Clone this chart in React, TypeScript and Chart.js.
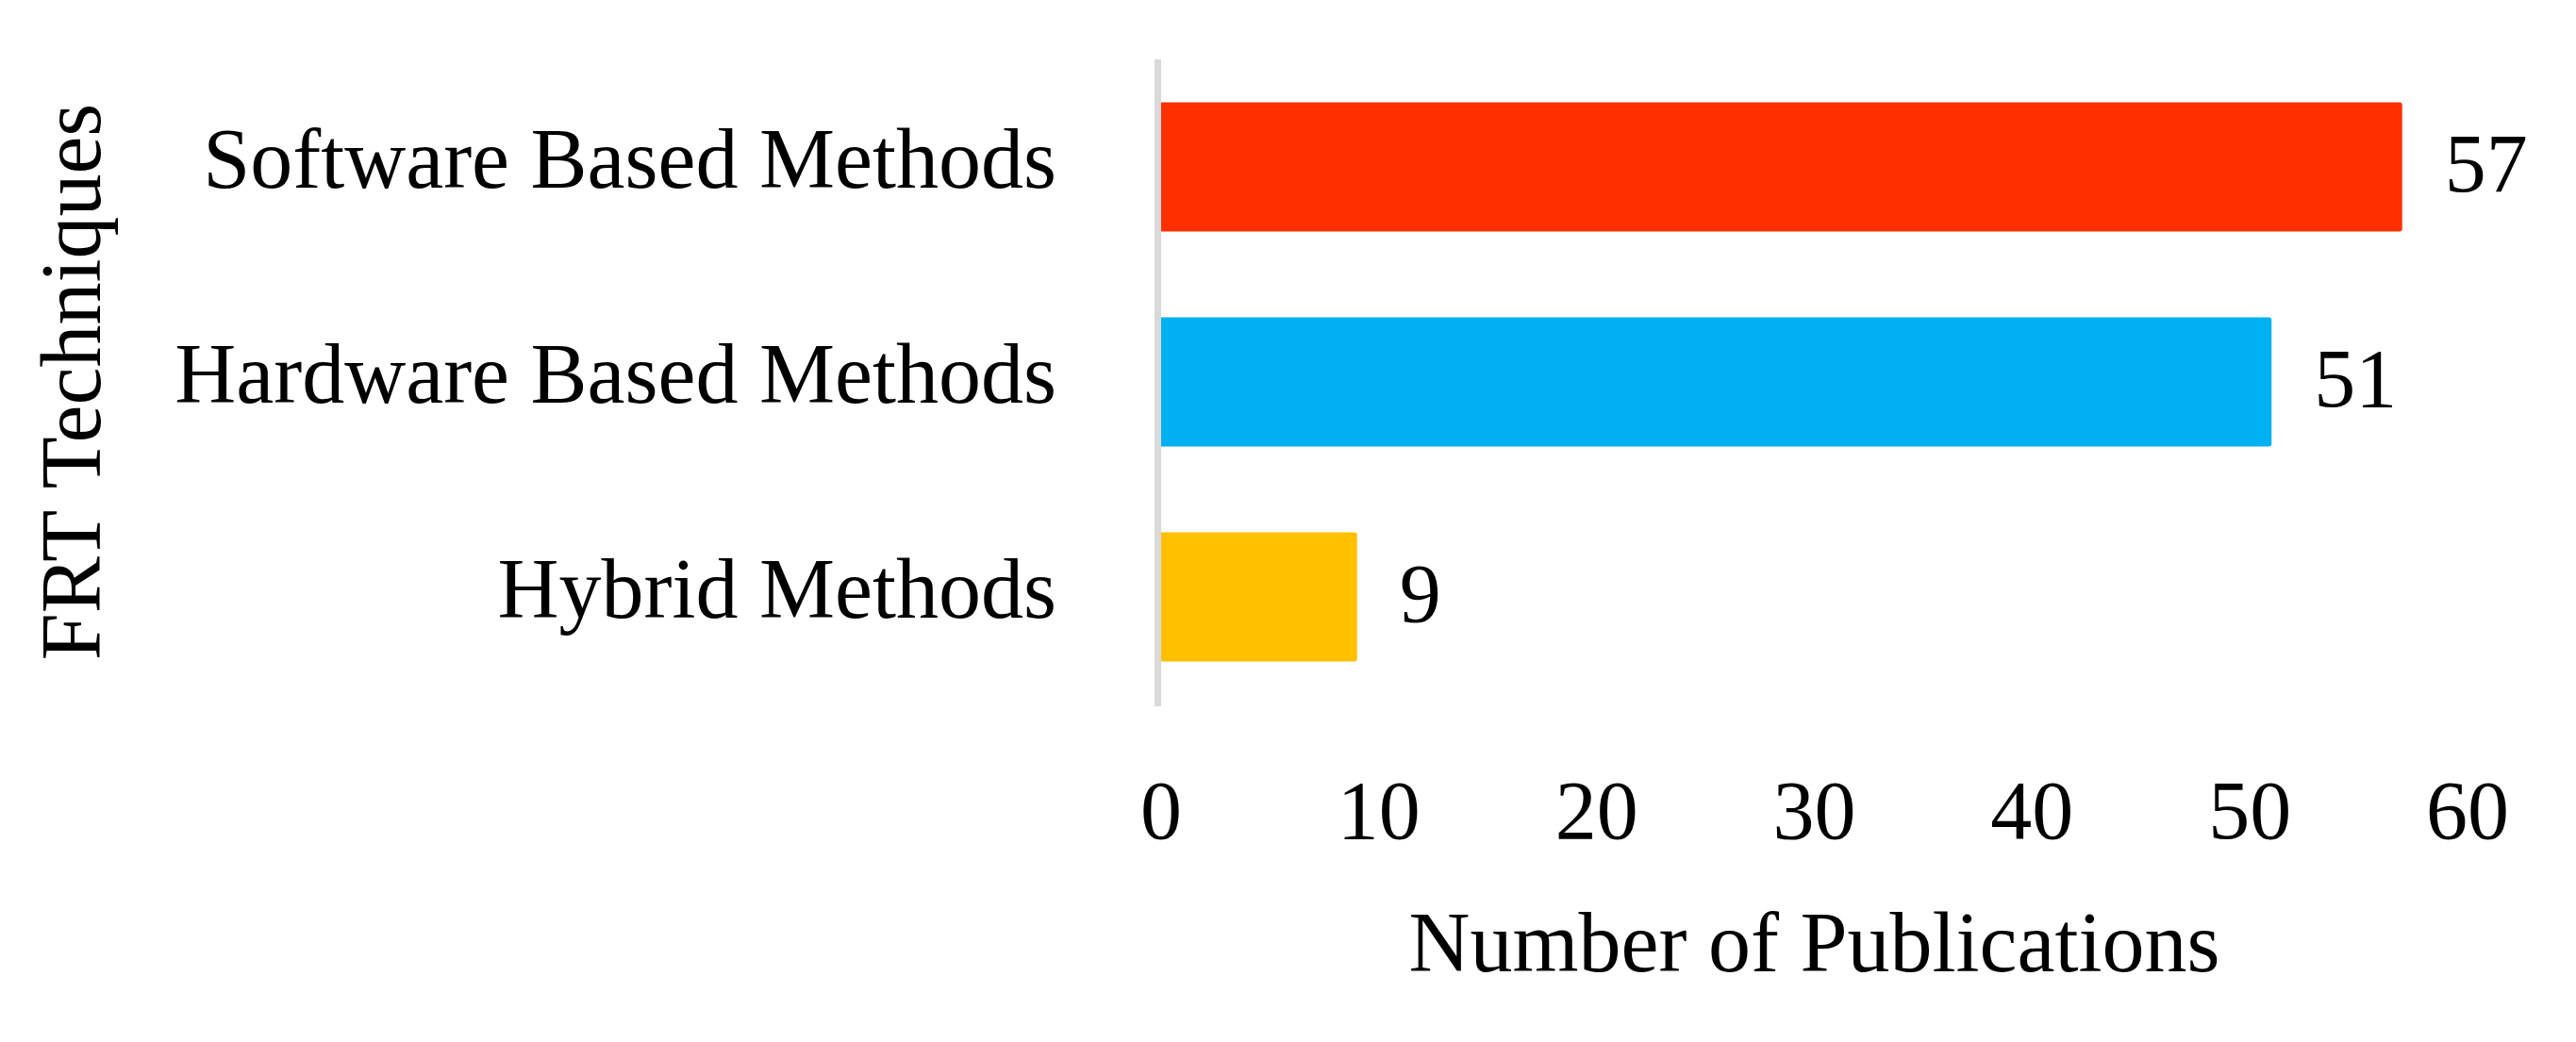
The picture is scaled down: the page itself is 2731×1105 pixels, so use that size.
import React, { useEffect, useRef } from "react";
import { Chart, registerables } from "chart.js";

Chart.register(...registerables);

const categories = ["Software Based Methods", "Hardware Based Methods", "Hybrid Methods"];
const publications = [57, 51, 9];
const barColors = ["#FF3000", "#00B0F0", "#FFC000"];
const xTicksMin = 0;
const xTicksMax = 60;
const xTickStep = 10;
const xTitle = "Number of Publications";
const yTitle = "FRT Techniques";

const FONT = "'Liberation Serif', 'Times New Roman', serif";

const axisLinePlugin = {
  id: "axisLine",
  beforeDatasetsDraw(chart: any) {
    const { ctx, chartArea } = chart;
    ctx.save();
    ctx.strokeStyle = "#D9D9D9";
    ctx.lineWidth = 7;
    ctx.beginPath();
    const x = chartArea.left - 3.5;
    ctx.moveTo(x, chartArea.top);
    ctx.lineTo(x, chartArea.bottom + 2);
    ctx.stroke();
    ctx.restore();
  },
};

const valueLabelPlugin = {
  id: "valueLabels",
  afterDatasetsDraw(chart: any) {
    const { ctx } = chart;
    const meta = chart.getDatasetMeta(0);
    const data = chart.data.datasets[0].data;
    ctx.save();
    ctx.fillStyle = "#000000";
    ctx.font = `88px ${FONT}`;
    ctx.textAlign = "left";
    ctx.textBaseline = "middle";
    meta.data.forEach((bar: any, i: number) => {
      ctx.fillText(String(data[i]), bar.x + 45, bar.y + 3);
    });
    ctx.restore();
  },
};

export default function App() {
  const canvasRef = useRef<HTMLCanvasElement | null>(null);

  useEffect(() => {
    const canvas = canvasRef.current;
    if (!canvas) return;
    const chart = new Chart(canvas, {
      type: "bar",
      data: {
        labels: categories,
        datasets: [
          {
            data: publications,
            backgroundColor: barColors,
            borderWidth: 0,
            borderRadius: 3,
            borderSkipped: "start",
            barPercentage: 0.6,
            categoryPercentage: 1,
          },
        ],
      },
      plugins: [axisLinePlugin, valueLabelPlugin],
      options: {
        indexAxis: "y",
        responsive: false,
        animation: false,
        devicePixelRatio: 1,
        layout: { padding: { top: 63, right: 115, left: 0, bottom: 0 } },
        plugins: {
          legend: { display: false },
          tooltip: { enabled: false },
          title: { display: false },
        },
        scales: {
          x: {
            type: "linear",
            position: "bottom",
            min: xTicksMin,
            max: xTicksMax,
            grid: { display: false, drawTicks: false },
            border: { display: false },
            ticks: {
              stepSize: xTickStep,
              color: "#000000",
              padding: 66,
              font: { family: FONT, size: 88 },
            },
            title: {
              display: true,
              text: xTitle,
              color: "#000000",
              font: { family: FONT, size: 90 },
              padding: { top: 0, bottom: 45 },
            },
            afterFit(scale: any) {
              scale.height = 358;
              scale.paddingLeft = 0;
              scale.paddingRight = 0;
            },
          },
          y: {
            type: "category",
            position: "left",
            grid: { display: false, drawTicks: false },
            border: { display: false },
            ticks: {
              color: "#000000",
              padding: 111,
              labelOffset: -2,
              font: { family: FONT, size: 90 },
            },
            title: {
              display: true,
              text: yTitle,
              color: "#000000",
              font: { family: FONT, size: 90 },
              padding: { top: 28, bottom: 0 },
            },
            afterFit(scale: any) {
              scale.width = 1231;
              scale.paddingTop = 0;
              scale.paddingBottom = 0;
            },
          },
        },
      },
    } as any);
    return () => chart.destroy();
  }, []);

  return (
    <div style={{ position: "fixed", left: 0, top: 0, width: 2731, height: 1105, background: "#ffffff" }}>
      <canvas ref={canvasRef} width={2731} height={1105} style={{ display: "block" }} />
    </div>
  );
}
